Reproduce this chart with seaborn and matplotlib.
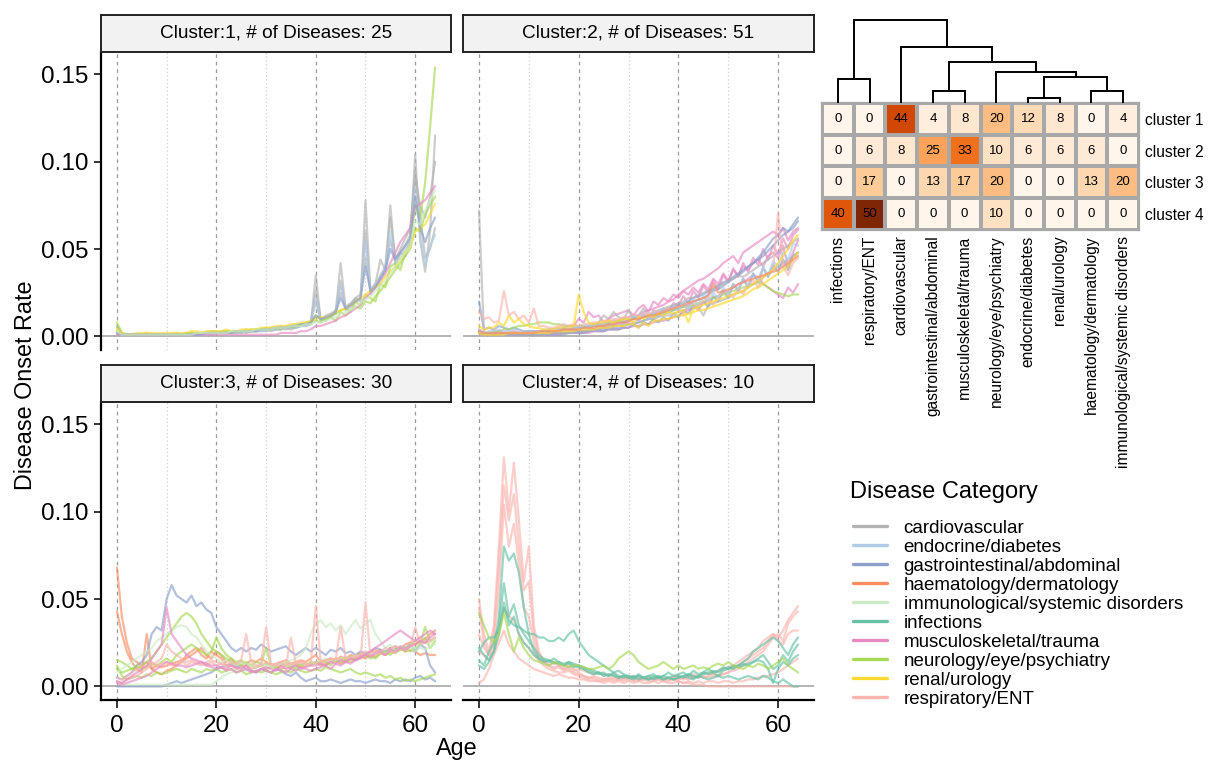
import numpy as np
import pandas as pd
import matplotlib
matplotlib.use("Agg")
import matplotlib.pyplot as plt
import seaborn as sns
from matplotlib.lines import Line2D
from matplotlib.colors import LinearSegmentedColormap

# ---------------- data ----------------
CATEGORIES = ["cardiovascular", "endocrine/diabetes", "gastrointestinal/abdominal",
              "haematology/dermatology", "immunological/systemic disorders", "infections",
              "musculoskeletal/trauma", "neurology/eye/psychiatry", "renal/urology",
              "respiratory/ENT"]
CAT_COLORS = ["#B3B3B3", "#AFCBE6", "#8DA0CB", "#FC8D62", "#CCEBC5", "#66C2A5",
              "#E78AC3", "#A6D854", "#FFD92F", "#FBB4AE"]
AGES = list(range(65))
PANEL_TITLES = ["Cluster:1, # of Diseases: 25", "Cluster:2, # of Diseases: 51",
                "Cluster:3, # of Diseases: 30", "Cluster:4, # of Diseases: 10"]

# onset rates in units of 0.001, ages 0..64
CLUSTER1 = [
    ("cardiovascular", [6,2,1,1,1,1,1,1,1,1, 1,1,1,1,1,2,1,1,2,1, 2,2,2,2,2,3,2,3,3,3,
                        4,3,4,4,5,4,5,6,6,7, 35,9,10,12,14,42,16,18,22,20,
                        78,25,30,44,38,75,40,48,46,55, 104,55,37,60,115]),
    ("cardiovascular", [3,1,1,1,1,1,1,1,1,1, 1,1,1,1,1,1,1,2,1,2, 2,2,2,2,3,2,3,3,3,4,
                        3,4,4,5,4,5,5,6,7,8, 26,10,11,11,13,32,15,17,20,22,
                        60,24,28,35,40,68,45,48,52,58, 95,70,45,50,62]),
    ("cardiovascular", [2,1,1,1,1,1,1,1,1,1, 1,1,1,1,1,1,2,1,2,2, 2,2,2,3,2,3,3,3,4,4,
                        4,5,4,5,5,6,6,7,7,8, 20,9,12,13,15,25,17,19,22,24,
                        45,27,30,34,38,55,44,50,56,62, 90,75,68,80,100]),
    ("endocrine/diabetes", [2,1,1,1,1,1,1,1,1,1, 1,1,1,1,1,1,1,1,1,2, 2,2,2,2,2,2,3,3,3,3,
                            3,4,4,4,5,5,5,6,6,7, 22,9,10,12,14,30,16,18,20,22,
                            55,26,30,33,38,60,42,46,50,55, 85,58,40,52,58]),
    ("neurology/eye/psychiatry", [8,2,1,1,1,1,2,1,1,1, 1,1,2,1,2,2,2,2,2,3, 3,2,3,3,3,3,4,3,4,4,
                                  5,4,5,6,5,6,7,6,8,8, 12,10,9,12,13,15,16,14,20,18,
                                  24,22,20,30,28,40,42,38,48,52, 75,68,88,120,154]),
    ("neurology/eye/psychiatry", [5,1,1,1,1,1,1,1,1,1, 1,1,1,1,2,1,2,2,2,2, 2,3,3,2,3,3,3,4,4,4,
                                  4,5,5,4,6,5,6,7,7,8, 9,8,10,11,9,14,12,15,17,16,
                                  20,19,23,26,30,34,38,42,46,50, 62,60,70,75,80]),
    ("musculoskeletal/trauma", [1,1,1,1,1,1,1,1,1,1, 1,1,1,1,1,1,1,1,1,1, 1,1,1,1,1,1,1,1,1,1,
                                1,1,1,2,2,2,2,3,3,4, 6,6,7,8,9,11,12,14,16,18,
                                22,25,28,32,36,42,48,54,58,62, 74,76,78,82,86]),
    ("renal/urology", [4,2,1,1,2,2,2,2,2,2, 2,2,2,2,2,3,3,2,3,3, 3,3,4,3,3,4,4,4,4,5,
                       5,5,6,6,6,7,7,8,8,9, 10,11,11,12,14,15,16,18,20,22,
                       24,26,28,30,34,37,40,44,48,52, 60,62,64,70,76]),
    ("gastrointestinal/abdominal", [2,1,1,1,1,1,1,1,1,1, 1,1,1,1,1,1,1,1,2,2, 2,2,2,2,3,3,3,3,3,4,
                                    4,4,5,5,5,6,6,7,7,8, 12,10,11,12,14,22,16,18,20,22,
                                    40,26,28,33,38,50,44,48,52,56, 80,62,54,62,68]),
    ("immunological/systemic disorders", [3,1,1,1,1,1,1,1,1,1, 1,1,1,1,1,1,2,2,2,2, 2,2,2,3,3,3,3,3,4,4,
                                          4,4,5,5,5,6,6,6,7,7, 8,8,9,10,11,13,14,15,17,19,
                                          21,23,26,29,32,36,40,44,48,52, 66,64,72,78,84]),
]

CLUSTER2 = [
    ("musculoskeletal/trauma", [3,1,1,1,1,1,1,1,1,1, 1,1,2,1,2,2,2,2,3,3, 3,3,4,4,5,5,6,6,7,8,
                                8,11,9,13,10,15,12,16,14,19, 18,23,19,26,22,29,25,32,27,35,
                                31,39,34,42,37,45,41,50,44,52, 47,56,50,58,61]),
    ("musculoskeletal/trauma", [4,2,2,2,3,2,2,3,2,2, 3,3,3,3,4,4,5,5,6,6, 10,8,14,11,12,8,10,12,13,14,
                                15,12,16,18,14,20,18,22,20,24, 22,26,24,28,25,30,27,33,30,36,
                                32,38,35,40,38,42,44,40,46,48, 45,52,40,48,55]),
    ("musculoskeletal/trauma", [2,1,1,1,1,1,1,1,1,1, 1,1,1,1,1,1,1,2,2,2, 2,2,2,3,3,3,4,4,4,5,
                                5,6,6,7,7,8,9,9,10,11, 12,14,15,16,18,19,20,22,23,25,
                                26,28,30,31,33,35,34,30,28,26, 24,22,28,25,30]),
    ("musculoskeletal/trauma", [2,1,1,1,1,1,2,2,2,2, 2,2,3,3,3,3,4,4,4,5, 5,5,6,6,7,7,8,9,9,10,
                                11,12,12,14,15,16,17,18,20,21, 24,26,28,30,32,33,35,37,39,42,
                                44,46,42,48,50,52,54,56,58,60, 58,62,55,60,62]),
    ("gastrointestinal/abdominal", [20,4,5,4,6,5,4,5,4,3, 3,3,2,3,3,3,4,4,4,4, 5,5,5,6,6,6,7,7,8,8,
                                    9,10,10,11,12,13,14,15,16,17, 18,19,20,22,23,24,26,27,29,31,
                                    32,34,36,38,40,42,45,48,52,56, 58,62,60,64,68]),
    ("gastrointestinal/abdominal", [3,1,1,1,1,1,1,1,1,1, 1,1,1,1,2,2,2,2,2,3, 3,3,3,4,4,4,5,5,5,6,
                                    7,7,8,9,10,11,12,13,14,15, 16,17,18,20,21,22,24,26,27,29,
                                    31,33,35,37,40,42,44,46,49,52, 55,58,60,62,66]),
    ("gastrointestinal/abdominal", [2,1,1,1,1,1,1,1,1,1, 1,1,1,1,1,1,1,1,2,2, 2,2,3,3,3,3,4,4,4,5,
                                    5,7,5,8,7,10,8,11,9,13, 11,15,13,18,15,20,17,23,20,26,
                                    22,30,26,33,28,36,31,39,34,41, 37,44,38,46,48]),
    ("neurology/eye/psychiatry", [2,2,2,3,3,4,4,5,6,6, 7,7,8,8,8,7,7,6,6,6, 6,6,6,7,7,7,8,8,9,9,
                                  10,10,11,11,12,12,13,14,14,15, 16,17,17,18,19,20,21,22,23,24,
                                  25,26,27,28,29,30,31,30,28,26, 25,24,23,24,24]),
    ("cardiovascular", [72,2,2,2,2,2,2,2,2,2, 2,2,2,3,3,3,3,3,4,4, 5,5,6,6,8,12,10,14,11,10,
                        15,10,12,16,12,14,15,16,17,18, 19,20,22,22,24,25,26,28,29,30,
                        32,33,35,34,36,38,40,42,44,46, 48,50,52,54,56]),
    ("cardiovascular", [3,1,1,1,1,1,1,1,1,1, 1,1,1,1,2,2,2,2,2,3, 3,3,4,4,4,5,5,6,6,7,
                        7,8,8,9,10,10,11,12,12,13, 14,15,16,16,17,12,18,19,20,21,
                        22,24,25,26,28,30,32,34,36,38, 40,42,44,46,48]),
    ("respiratory/ENT", [14,10,11,8,9,26,12,14,10,12, 8,16,6,6,5,5,6,7,6,7, 6,7,7,8,8,9,9,10,10,11,
                         11,12,12,13,13,14,14,15,16,16, 17,12,18,19,15,20,22,18,23,25,
                         26,22,28,24,30,32,28,34,36,38, 71,40,35,42,45]),
    ("endocrine/diabetes", [4,2,3,3,4,3,3,4,3,3, 3,3,3,4,4,4,4,5,5,5, 5,6,6,6,7,7,7,8,8,9,
                            9,12,9,13,10,14,12,16,13,17, 15,19,16,21,18,23,20,25,22,28,
                            24,30,27,33,29,36,32,40,35,43, 40,48,44,53,52]),
    ("renal/urology", [6,4,5,5,8,6,12,8,10,7, 6,5,5,4,4,4,5,5,5,6, 24,14,8,7,8,8,9,8,9,10,
                       10,8,11,10,12,11,13,12,14,13, 14,15,8,16,17,18,19,20,21,22,
                       23,24,25,26,28,30,32,34,36,38, 42,46,50,55,58]),
    ("renal/urology", [2,1,1,1,1,1,2,2,2,2, 2,2,2,2,2,3,3,3,3,3, 4,4,4,4,5,5,5,6,6,6,
                       7,7,5,8,6,9,9,10,10,11, 12,12,13,14,15,15,16,17,18,19,
                       20,21,22,23,25,27,28,30,32,34, 36,38,40,44,48]),
    ("haematology/dermatology", [3,2,2,2,2,2,2,2,2,2, 2,2,3,3,3,3,3,4,4,4, 4,5,5,5,6,6,7,7,8,8,
                                 9,10,10,11,12,12,13,14,15,16, 17,18,19,20,21,22,23,30,25,26,
                                 27,28,30,31,32,33,34,35,36,37, 38,40,42,44,46]),
]

CLUSTER3 = [
    ("haematology/dermatology", [68,40,25,16,14,12,14,10,12,11, 12,13,14,15,16,18,20,22,18,16,
                                 20,18,14,16,12,14,13,15,14,16, 14,12,13,14,15,13,14,15,14,16,
                                 18,14,15,16,15,17,16,18,17,19, 18,19,20,21,19,22,23,21,24,25,
                                 24,26,27,30,32]),
    ("haematology/dermatology", [43,30,20,14,10,8,30,10,8,7, 9,10,12,14,18,20,22,18,16,20,
                                 18,16,12,13,10,11,12,10,11,12, 10,11,12,10,11,12,13,11,12,13,
                                 14,12,13,14,15,13,14,16,15,17, 16,18,17,19,18,20,21,22,20,21,
                                 20,18,19,18,18]),
    ("gastrointestinal/abdominal", [5,4,6,8,12,14,18,30,34,32, 50,58,52,50,48,52,46,48,44,42,
                                    34,30,26,22,20,22,20,22,21,24, 22,20,21,22,23,20,18,20,22,20,
                                    22,20,18,21,20,22,19,20,18,20, 19,20,22,21,20,22,21,23,22,24,
                                    20,24,22,12,8]),
    ("gastrointestinal/abdominal", [0,0,0,0,0,0,0,0,0,0, 1,2,3,2,3,4,5,6,7,8,
                                    10,11,12,13,11,12,10,9,8,10, 9,8,10,9,7,6,8,5,3,4,
                                    5,3,3,4,3,2,3,4,3,3, 2,3,4,3,3,2,4,3,4,3,
                                    5,6,4,5,3]),
    ("neurology/eye/psychiatry", [15,14,12,10,10,12,14,16,20,24, 28,32,36,40,42,40,36,30,26,22,
                                  20,18,16,14,13,12,14,12,11,12, 13,12,10,12,14,11,12,13,12,14,
                                  13,15,14,12,16,14,15,17,16,18, 17,18,16,19,20,18,21,22,20,24,
                                  26,24,28,22,26]),
    ("neurology/eye/psychiatry", [10,8,9,10,12,10,11,13,12,14, 16,14,18,20,22,24,22,20,18,20,
                                  28,22,18,16,14,15,13,12,14,13, 22,12,11,13,12,10,11,12,13,12,
                                  14,13,12,15,14,16,15,14,16,17, 18,16,17,19,18,20,19,21,22,20,
                                  22,24,34,26,28]),
    ("neurology/eye/psychiatry", [12,6,4,5,6,5,7,6,8,7, 8,9,10,9,8,10,9,8,10,9,
                                  10,8,9,10,8,9,7,8,9,8, 9,8,7,8,9,8,10,9,8,9,
                                  10,9,11,10,9,8,9,10,8,7, 8,7,6,7,5,6,4,5,3,4,
                                  3,4,5,6,7]),
    ("immunological/systemic disorders", [2,1,1,1,1,1,1,1,1,1, 1,1,1,1,1,1,1,1,1,1,
                                          3,5,7,8,9,10,9,10,11,12, 12,11,12,13,14,15,16,18,22,30,
                                          36,38,34,36,32,35,30,34,38,33, 36,38,30,26,22,24,20,22,21,23,
                                          22,24,26,25,27]),
    ("immunological/systemic disorders", [8,10,12,14,16,18,20,22,26,28, 30,32,34,35,34,30,28,24,20,18,
                                          16,14,15,13,12,14,13,12,11,12, 11,12,13,12,11,12,13,14,12,13,
                                          14,15,16,14,15,16,17,16,18,17, 18,19,18,20,19,21,20,22,21,22,
                                          20,22,21,23,24]),
    ("respiratory/ENT", [5,4,6,8,10,12,11,14,12,13, 14,12,13,15,12,14,13,12,14,15,
                         14,13,12,14,13,15,30,14,12,13, 34,13,12,14,12,28,13,14,12,13,
                         46,14,15,16,15,34,16,15,17,16, 48,17,18,19,18,20,19,22,21,23,
                         34,24,25,26,28]),
    ("respiratory/ENT", [3,2,4,5,6,8,10,12,14,16, 24,20,18,16,14,15,14,13,12,14,
                         12,13,11,12,10,11,12,10,11,12, 14,12,13,11,12,13,12,14,13,12,
                         14,13,15,14,16,15,17,16,18,17, 20,19,21,20,22,21,23,22,24,25,
                         26,28,25,30,30]),
    ("musculoskeletal/trauma", [3,2,4,6,8,10,12,16,20,24, 45,30,26,22,18,16,15,14,13,12,
                                12,11,10,12,11,10,12,9,8,10, 9,8,10,9,8,10,9,11,10,9,
                                10,11,12,10,13,12,14,13,15,16, 18,20,22,24,26,28,30,32,30,28,
                                26,28,30,32,30]),
    ("musculoskeletal/trauma", [2,1,2,3,4,5,6,8,10,12, 14,13,12,12,11,12,13,14,12,11,
                                10,11,9,10,8,9,10,8,9,10, 11,10,9,12,10,11,12,10,11,12,
                                12,13,12,14,13,15,14,16,15,17, 18,17,19,20,18,21,20,22,21,23,
                                24,26,25,28,30]),
]

CLUSTER4 = [
    ("respiratory/ENT", [50,30,20,35,80,131,100,128,95,60, 80,35,20,15,12,14,12,10,12,10,
                         8,6,5,5,4,4,5,4,4,5, 4,5,4,4,5,4,5,4,4,5,
                         5,4,5,6,5,6,5,6,6,7, 8,10,12,14,16,18,20,22,26,30,
                         28,32,38,42,46]),
    ("respiratory/ENT", [45,25,18,30,70,115,95,110,80,55, 60,30,18,14,12,10,11,9,10,8,
                         7,6,5,6,5,4,4,5,4,4, 5,4,4,5,4,5,4,4,5,4,
                         4,5,4,5,6,5,6,7,6,7, 8,9,10,12,14,16,18,20,24,28,
                         30,26,36,40,43]),
    ("respiratory/ENT", [20,18,15,25,55,104,80,93,70,45, 40,25,15,12,10,9,8,8,9,7,
                         6,5,4,4,3,3,4,3,4,3, 4,3,3,4,3,3,4,3,3,4,
                         3,2,2,1,1,1,0,0,0,0, 0,0,0,0,0,0,0,0,0,0,
                         0,0,0,0,0]),
    ("respiratory/ENT", [2,4,10,18,25,32,24,20,16,14, 12,10,9,8,7,6,7,6,5,5,
                         4,4,3,3,3,2,3,2,3,2, 3,2,3,2,2,3,2,3,2,2,
                         3,2,3,2,3,2,3,3,2,3, 3,2,3,3,4,4,5,6,6,7,
                         8,10,12,14,16]),
    ("respiratory/ENT", [30,22,18,20,30,45,40,38,30,25, 22,18,15,14,12,11,12,10,11,9,
                         10,9,8,7,8,6,7,6,5,6, 5,6,5,4,5,4,6,5,4,5,
                         6,5,6,7,6,8,7,8,9,10, 11,12,14,16,18,20,22,26,28,30,
                         26,24,30,32,32]),
    ("infections", [22,18,15,20,40,80,72,76,65,45, 30,20,16,15,14,16,14,13,14,12,
                    11,10,8,7,8,6,7,6,5,6, 5,4,6,5,4,6,5,4,5,6,
                    6,5,7,6,5,8,7,8,6,9, 10,11,12,14,16,20,22,24,26,28,
                    26,22,18,24,28]),
    ("infections", [15,12,20,25,35,59,40,47,35,30, 26,22,18,16,15,14,13,12,14,13,
                    12,11,10,9,8,7,6,8,6,5, 6,5,7,5,6,7,5,6,8,6,
                    7,8,6,9,7,8,10,8,9,11, 10,12,11,12,13,14,16,18,14,10,
                    12,18,14,20,24]),
    ("infections", [20,25,28,28,32,45,38,35,34,32, 30,30,28,28,26,26,28,26,30,32,
                    26,22,18,16,14,12,10,8,9,7, 6,5,6,5,4,5,6,4,5,4,
                    5,6,5,4,6,5,4,5,6,5, 6,5,4,5,6,5,4,6,5,3,
                    2,4,2,0,0]),
    ("infections", [12,10,14,20,30,48,35,40,30,25, 22,18,16,14,15,13,14,12,13,11,
                    12,10,9,8,7,8,6,7,5,6, 5,6,4,5,6,4,5,6,5,4,
                    5,6,7,5,6,7,8,9,8,10, 11,10,12,13,12,14,15,14,10,2,
                    10,14,12,16,18]),
    ("neurology/eye/psychiatry", [42,35,28,25,30,42,30,20,28,22, 18,15,14,13,12,14,13,12,11,12,
                                  12,11,10,10,11,12,10,12,16,18, 20,18,14,12,10,11,12,14,12,10,
                                  12,10,11,12,10,11,10,12,13,12, 14,12,11,10,12,11,13,12,10,12,
                                  14,16,12,10,8]),
]

HEAT_ROWS = ["cluster 1", "cluster 2", "cluster 3", "cluster 4"]
HEAT_COLS = ["infections", "respiratory/ENT", "cardiovascular", "gastrointestinal/abdominal",
             "musculoskeletal/trauma", "neurology/eye/psychiatry", "endocrine/diabetes",
             "renal/urology", "haematology/dermatology", "immunological/systemic disorders"]
HEAT_VALUES = [
    [0, 0, 44, 4, 8, 20, 12, 8, 0, 4],
    [0, 6, 8, 25, 33, 10, 6, 6, 6, 0],
    [0, 17, 0, 13, 17, 20, 0, 0, 13, 20],
    [40, 50, 0, 0, 0, 10, 0, 0, 0, 0],
]
# colour stops of the heatmap scale (value, colour)
HEAT_STOPS = [(0, "#FFF5EB"), (8, "#FEE6CE"), (17, "#FDCB98"), (25, "#FDA35A"),
              (33, "#F0701C"), (42, "#DC5006"), (46, "#C84004"), (50, "#7F2704")]
# dendrogram merges over heatmap columns: (node a, node b, height); new nodes numbered from 10
DENDRO_MERGES = [(6, 7, 5), (8, 9, 12), (3, 4, 12), (0, 1, 24), (10, 11, 26),
                 (5, 14, 31), (12, 15, 41), (2, 16, 56), (13, 17, 83)]

# ---------------- style ----------------
sns.set_style("white")
plt.rcParams['font.family'] = ['Liberation Sans', 'DejaVu Sans']
plt.rcParams['text.color'] = 'black'
plt.rcParams['axes.labelcolor'] = 'black'
plt.rcParams['xtick.color'] = 'black'
plt.rcParams['ytick.color'] = 'black'

PALETTE = dict(zip(CATEGORIES, CAT_COLORS))
W, H = 1210, 760
fig = plt.figure(figsize=(12.1, 7.6), dpi=100)


def box(x0, y0, x1, y1):
    return [x0 / W, 1 - y1 / H, (x1 - x0) / W, (y1 - y0) / H]


panels = [
    (CLUSTER1, PANEL_TITLES[0], (101, 52, 451, 350), (15, 52), True, False),
    (CLUSTER2, PANEL_TITLES[1], (463, 52, 814, 350), (15, 52), False, False),
    (CLUSTER3, PANEL_TITLES[2], (101, 402, 451, 700), (365, 402), True, True),
    (CLUSTER4, PANEL_TITLES[3], (463, 402, 814, 700), (365, 402), False, True),
]

for lines, title, (x0, y0, x1, y1), (s0, s1), show_y, show_x in panels:
    for _, v in lines:
        assert len(v) == len(AGES)
    rows = []
    for i, (cat, vals) in enumerate(lines):
        for a, v in zip(AGES, vals):
            rows.append((i, cat, a, v / 1000.0))
    df = pd.DataFrame(rows, columns=["id", "category", "age", "rate"])

    ax = fig.add_axes(box(x0, y0, x1, y1))
    for g in [0, 20, 40, 60]:
        ax.axvline(g, color="#9a9a9a", lw=0.9, ls=(0, (3, 3)), zorder=0)
    for g in [10, 30, 50]:
        ax.axvline(g, color="#d0d0d0", lw=0.9, ls=(0, (1, 2)), zorder=0)
    ax.axhline(0, color="#a8a8a8", lw=1.2, zorder=1)
    sns.lineplot(data=df, x="age", y="rate", hue="category", units="id", estimator=None,
                 palette=PALETTE, lw=1.6, alpha=0.65, legend=False, ax=ax)
    ax.set_xlim(-3.2, 67.2)
    ax.set_ylim(-0.00775, 0.1627)
    ax.set_xlabel("")
    ax.set_ylabel("")
    for sp in ["top", "right"]:
        ax.spines[sp].set_visible(False)
    ax.spines["left"].set_visible(show_y)
    ax.spines["bottom"].set_visible(show_x)
    ax.spines["left"].set_color("black")
    ax.spines["bottom"].set_color("black")
    ax.spines["left"].set_linewidth(1.6)
    ax.spines["bottom"].set_linewidth(1.6)
    ax.set_yticks([0.0, 0.05, 0.10, 0.15])
    ax.set_yticklabels(["0.00", "0.05", "0.10", "0.15"])
    ax.set_xticks([0, 20, 40, 60])
    ax.tick_params(axis="y", left=show_y, labelleft=show_y, length=5, width=1.1,
                   labelsize=17.5, pad=4)
    ax.tick_params(axis="x", bottom=show_x, labelbottom=show_x, length=6, width=1.1,
                   labelsize=17.5, pad=5)

    sax = fig.add_axes(box(x0, s0, x1, s1))
    sax.set_facecolor("#F2F2F2")
    sax.set_xticks([])
    sax.set_yticks([])
    for sp in sax.spines.values():
        sp.set_visible(True)
        sp.set_color("#222222")
        sp.set_linewidth(1.4)
    sax.text(0.5, 0.5, title, ha="center", va="center", fontsize=13.7,
             transform=sax.transAxes)

fig.text(26 / W, 1 - 385 / H, "Disease Onset Rate", rotation=90, ha="center", va="center",
         fontsize=16.8)
fig.text(457 / W, 1 - 748 / H, "Age", ha="center", va="center", fontsize=16.8)

# ---------------- heatmap ----------------
hdf = pd.DataFrame(HEAT_VALUES, index=HEAT_ROWS, columns=HEAT_COLS)
heat_cmap = LinearSegmentedColormap.from_list(
    "heat", [(v / HEAT_STOPS[-1][0], c) for v, c in HEAT_STOPS])
hax = fig.add_axes(box(822, 103, 1139, 230))
sns.heatmap(hdf, ax=hax, cmap=heat_cmap, vmin=0, vmax=HEAT_STOPS[-1][0], annot=True, fmt="d",
            annot_kws={"color": "black", "fontsize": 9.5}, linewidths=1.6,
            linecolor="#A8A8A8", cbar=False)
hax.yaxis.tick_right()
hax.set_yticklabels(HEAT_ROWS, rotation=0, fontsize=11.2)
hax.set_xticklabels(HEAT_COLS, rotation=90, fontsize=11.2)
hax.tick_params(length=0, pad=4)
hax.set_xlabel("")
hax.set_ylabel("")
for sp in hax.spines.values():
    sp.set_visible(True)
    sp.set_color("#A8A8A8")
    sp.set_linewidth(1.6)

# ---------------- dendrogram ----------------
dax = fig.add_axes(box(822, 18, 1139, 103))
node_x = {i: i + 0.5 for i in range(len(HEAT_COLS))}
node_h = {i: 0.0 for i in range(len(HEAT_COLS))}
nid = len(HEAT_COLS)
for a, b, h in DENDRO_MERGES:
    xa, xb = node_x[a], node_x[b]
    dax.plot([xa, xa, xb, xb], [node_h[a], h, h, node_h[b]], color="black", lw=1.4,
             solid_joinstyle="miter")
    node_x[nid] = (xa + xb) / 2
    node_h[nid] = h
    nid += 1
dax.set_xlim(0, len(HEAT_COLS))
dax.set_ylim(0, 85)
dax.axis("off")

# ---------------- legend ----------------
fig.text(850 / W, 1 - 492 / H, "Disease Category", ha="left", va="center", fontsize=17)
handles = [Line2D([0], [0], color=c, lw=2.4) for c in CAT_COLORS]
leg = fig.legend(handles, CATEGORIES, loc="upper left",
                 bbox_to_anchor=(845.5 / W, 1 - 512 / H), frameon=False,
                 fontsize=13.5, handlelength=1.8, handletextpad=0.9, labelspacing=0.1,
                 borderpad=0.4, borderaxespad=0)

fig.savefig("out.png", dpi=100)
